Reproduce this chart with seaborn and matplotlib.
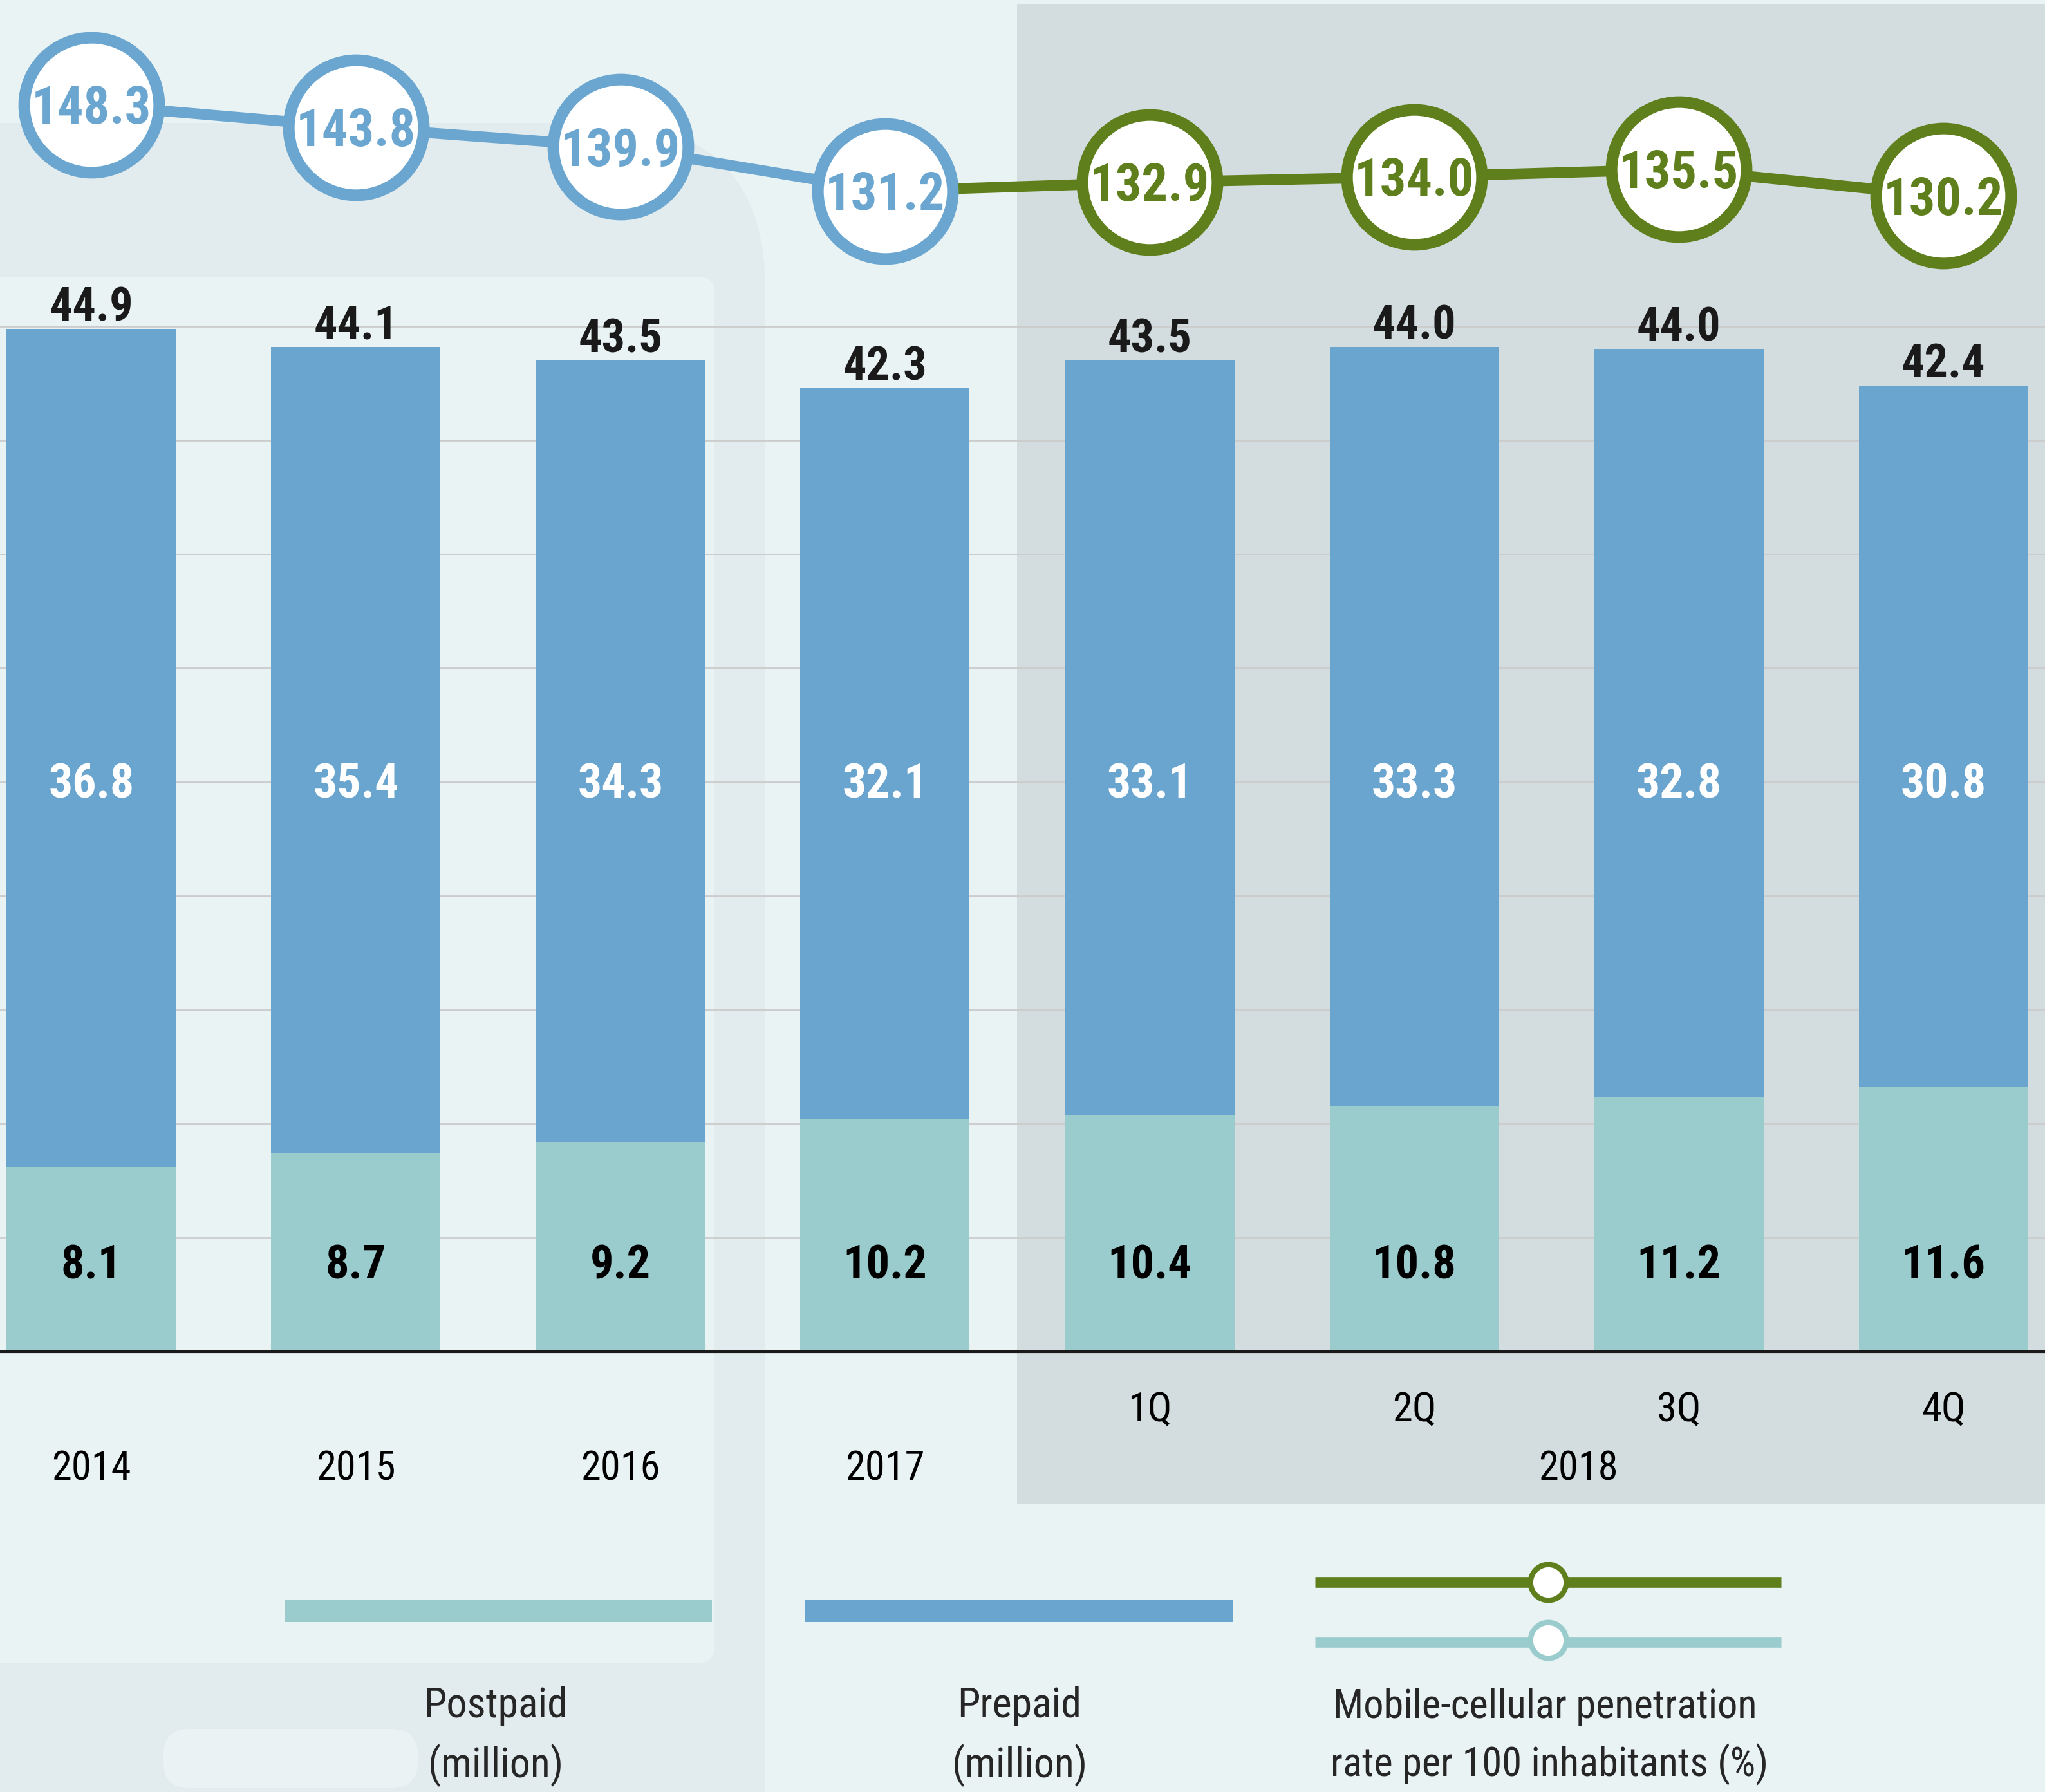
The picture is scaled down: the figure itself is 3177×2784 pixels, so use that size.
import pandas as pd
import matplotlib
matplotlib.use('Agg')
import matplotlib.pyplot as plt
import matplotlib.transforms as mtransforms
from matplotlib.patches import Rectangle, FancyBboxPatch
import seaborn as sns

# Data
periods = ['2014', '2015', '2016', '2017', '1Q', '2Q', '3Q', '4Q']
postpaid = [8.1, 8.7, 9.2, 10.2, 10.4, 10.8, 11.2, 11.6]
prepaid = [36.8, 35.4, 34.3, 32.1, 33.1, 33.3, 32.8, 30.8]
totals = [44.9, 44.1, 43.5, 42.3, 43.5, 44.0, 44.0, 42.4]
penetration = [148.3, 143.8, 139.9, 131.2, 132.9, 134.0, 135.5, 130.2]
group_label = '2018'

# Colours
BG = '#eaf3f4'
PANEL = '#e2ebed'
SHADE = '#d3dcde'
POST_C = '#9acccd'
PRE_C = '#6aa5cf'
BLUE = '#6ba6d0'
GREEN = '#5e7f1c'
INK = '#1a1a1a'

sns.set_style('white')
plt.rcParams['font.family'] = ['Noto Sans Condensed', 'DejaVu Sans Condensed', 'Roboto Condensed',
                               'Open Sans Condensed', 'DejaVu Sans']
plt.rcParams['font.stretch'] = 'condensed'

W, H = 3177, 2784
fig = plt.figure(figsize=(W / 100, H / 100), dpi=100, facecolor=BG)

# background layer in pixel coords (panels + legend)
bg = fig.add_axes([0, 0, 1, 1], zorder=-1)
bg.set_xlim(0, W)
bg.set_ylim(H, 0)
bg.axis('off')
bg.add_patch(FancyBboxPatch((-300, 191), 1189 + 300, H - 191 + 300,
                            boxstyle='round,pad=0,rounding_size=260', fc=PANEL, ec='none'))
bg.add_patch(FancyBboxPatch((-100, 430), 1110 + 100, 2583 - 430,
                            boxstyle='round,pad=0,rounding_size=25', fc=BG, ec='none'))
bg.add_patch(FancyBboxPatch((254, 2686), 395, 92,
                            boxstyle='round,pad=0,rounding_size=40', fc='#eaf2f3', ec='none'))
bg.add_patch(Rectangle((1580, 6), W - 1580 + 10, 2336 - 6, fc=SHADE, ec='none'))

# main chart axes: baseline at 2100 px, 35.4 px per million
px_per_unit = 35.4
ax = fig.add_axes([0, (H - 2100) / H, 1, 2100 / H])
ax.set_facecolor('none')

df = pd.DataFrame({'period': periods, 'postpaid': postpaid, 'prepaid': prepaid})
df['stack'] = df['postpaid'] + df['prepaid']

sns.barplot(data=df, x='period', y='stack', order=periods, color=PRE_C,
            saturation=1, width=0.64, linewidth=0, ax=ax, zorder=2)
sns.barplot(data=df, x='period', y='postpaid', order=periods, color=POST_C,
            saturation=1, width=0.64, linewidth=0, ax=ax, zorder=2)

ax.set_xlim(-0.345, 7.384)
ax.set_ylim(0, 2100 / px_per_unit)
ax.set_yticks(range(0, 50, 5))
ax.yaxis.grid(True, color='#cccccc', lw=2)
ax.set_axisbelow(True)
ax.tick_params(length=0, labelbottom=False, labelleft=False)
ax.set_xlabel('')
ax.set_ylabel('')
for s in ax.spines.values():
    s.set_visible(False)
ax.axhline(0, color=INK, lw=3, zorder=3, clip_on=False)

for i in range(len(periods)):
    ax.annotate(f'{totals[i]:.1f}', (i, df['stack'][i]), xytext=(0, 9),
                textcoords='offset points', ha='center', va='baseline',
                fontsize=52, fontweight='bold', color=INK, zorder=4)
    ax.text(i, 24.3, f'{prepaid[i]:.1f}', ha='center', va='baseline',
            fontsize=53, fontweight='bold', color='white', zorder=4)
    ax.text(i, 3.2, f'{postpaid[i]:.1f}', ha='center', va='baseline',
            fontsize=52, fontweight='bold', color='black', zorder=4)

# category labels under the axis
trans = mtransforms.blended_transform_factory(ax.transData, bg.transData)
for i, p in enumerate(periods):
    yb = 2299 if i < 4 else 2208
    ax.text(i, yb, p, transform=trans, ha='center', va='baseline', fontsize=45, color='black')
ax.text(5.62, 2300, group_label, transform=trans, ha='center', va='baseline',
        fontsize=45, color='black')

# penetration rate line on twin axis
tw = ax.twinx()
tw.set_ylim(-99.12, 169.08)
tw.tick_params(length=0, labelright=False)
for s in tw.spines.values():
    s.set_visible(False)

xs = list(range(len(periods)))
sns.lineplot(x=xs[3:], y=penetration[3:], color=GREEN, lw=12, ax=tw, zorder=5)
sns.lineplot(x=xs[:4], y=penetration[:4], color=BLUE, lw=12, marker='o', markersize=151,
             markerfacecolor='white', markeredgecolor=BLUE, markeredgewidth=13, ax=tw, zorder=6)
tw.plot(xs[4:], penetration[4:], ls='none', marker='o', ms=151, mfc='white',
        mec=GREEN, mew=13, zorder=6)
for i, v in enumerate(penetration):
    c = BLUE if i < 4 else GREEN
    tw.annotate(f'{v:.1f}', (i, v), xytext=(0, -21), textcoords='offset points',
                ha='center', va='baseline', fontsize=58, fontweight='bold', color=c, zorder=7)
tw.set_xlim(-0.345, 7.384)

# legend
bg.add_patch(Rectangle((442, 2486), 664, 34, fc=POST_C, ec='none'))
bg.add_patch(Rectangle((1251, 2486), 665, 34, fc=PRE_C, ec='none'))
bg.plot([2043, 2767], [2458, 2458], color=GREEN, lw=12, solid_capstyle='butt')
bg.plot([2405], [2458], 'o', ms=40, mfc='white', mec=GREEN, mew=6)
bg.plot([2043, 2767], [2551, 2551], color=POST_C, lw=12, solid_capstyle='butt')
bg.plot([2405], [2548], 'o', ms=40, mfc='white', mec=POST_C, mew=6)

bg.text(770, 2668, 'Postpaid', ha='center', va='baseline', fontsize=46)
bg.text(770, 2761, '(million)', ha='center', va='baseline', fontsize=46)
bg.text(1584, 2668, 'Prepaid', ha='center', va='baseline', fontsize=46)
bg.text(1584, 2761, '(million)', ha='center', va='baseline', fontsize=46)
bg.text(2400, 2669, 'Mobile-cellular penetration', ha='center', va='baseline', fontsize=45)
bg.text(2407, 2760, 'rate per 100 inhabitants (%)', ha='center', va='baseline', fontsize=45)

fig.savefig('out.png', dpi=100, facecolor=fig.get_facecolor())
